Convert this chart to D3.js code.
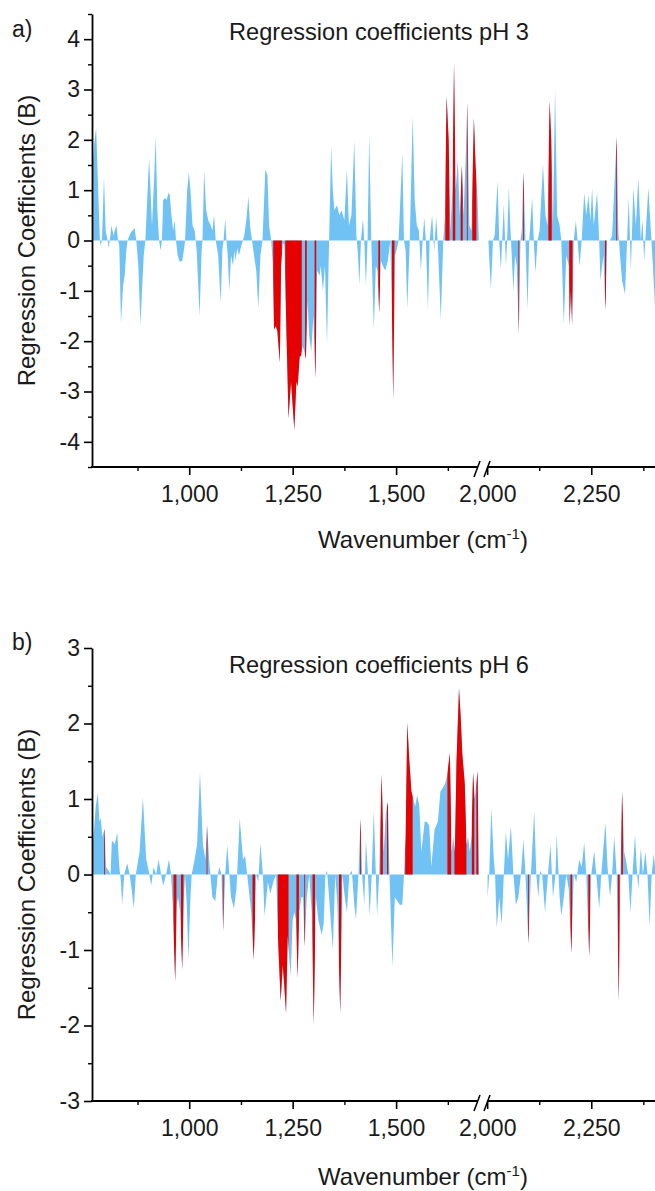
<!DOCTYPE html>
<html><head><meta charset="utf-8">
<script src="https://cdn.jsdelivr.net/npm/d3@7"></script>
<style>
body{margin:0;background:#fff;}
text{font-family:"Liberation Sans",Arial,Helvetica,sans-serif;fill:#1a1a1a;}
</style></head><body>
<svg id="chart" width="655" height="1191"></svg>
<script>
// ---- DATA: [wavenumber (cm-1), regression coefficient B] ----
// pH 3, low-wavenumber segment
const pH3Low = [[765,1.3],[770,1.9],[775,2.24],[780,1.0],[784,0],[786,-0.1],[789,0],[794,1.25],[798,0.2],[803,0],[805,-0.15],[808,0],[812,0.3],[817,0.1],[820,0.2],[824,0.3],[828,0],[831,-0.1],[835,-1.64],[840,-0.9],[844,-0.7],[848,-0.2],[851,0],[858,0.15],[863,0.2],[868,0.25],[872,0],[877,-0.5],[882,-1.67],[887,-0.8],[890,-0.3],[894,0],[903,1.64],[907,0.9],[910,0.3],[915,1.2],[919,2.07],[923,0.6],[927,0],[931,-0.2],[934,0],[937,0.8],[942,0.85],[945,0.8],[950,0.95],[953,0.9],[957,0.5],[961,0.2],[965,0.4],[968,0],[972,-0.3],[977,-0.42],[983,-0.4],[987,-0.2],[990,0],[995,1.0],[999,1.35],[1003,1.0],[1008,0.3],[1013,0.2],[1018,-0.2],[1025,-1.5],[1030,-0.2],[1032,0],[1036,1.38],[1041,0.6],[1046,0.4],[1052,0.3],[1056,0.2],[1060,0.5],[1064,0],[1070,-0.3],[1076,-1.24],[1080,-0.2],[1083,0],[1087,0.43],[1090,0],[1093,-0.3],[1097,-1.0],[1101,-0.3],[1106,-0.5],[1109,-0.2],[1112,-0.4],[1116,-0.15],[1120,-0.3],[1126,-0.1],[1133,0.1],[1138,0.4],[1143,0.88],[1147,0.3],[1150,0.1],[1155,-0.2],[1162,-0.6],[1167,-1.34],[1172,-0.3],[1177,0],[1184,1.41],[1189,1.3],[1193,0.3],[1198,0],[1202,-0.5],[1205,-1.77],[1209,-1.7],[1213,-1.8],[1219,-2.43],[1222,-0.5],[1226,-0.05],[1230,-0.1],[1234,-1.5],[1240,-3.53],[1246,-2.8],[1254,-3.76],[1259,-2.8],[1262,-2.9],[1267,-2.3],[1270,-2.3],[1274,-2.1],[1278,-2.2],[1282,-2.35],[1286,-1.2],[1290,-1.9],[1295,-2.2],[1300,-1.5],[1305,-2.73],[1309,-0.6],[1315,-0.7],[1318,-0.5],[1323,-1.0],[1328,-0.5],[1333,-2.07],[1338,0],[1343,1.87],[1347,1.0],[1351,0.6],[1357,0.7],[1363,0.5],[1368,0.6],[1375,0.4],[1381,1.41],[1386,0.3],[1392,0.5],[1399,1.97],[1404,0.1],[1408,-0.3],[1411,-0.9],[1415,0],[1420,0.43],[1423,0],[1427,-0.9],[1431,0],[1435,2.1],[1440,0],[1446,-1.77],[1451,-0.5],[1455,-0.6],[1459,-1.44],[1463,-0.4],[1468,-0.5],[1474,-0.6],[1480,-0.4],[1486,0],[1490,-1.5],[1493,-3.16],[1497,-0.3],[1501,-0.2],[1506,0],[1515,1.74],[1519,0],[1523,-0.2],[1527,-1.34],[1533,0],[1540,2.47],[1545,0.8],[1550,0.3],[1555,0.2],[1560,-0.6],[1564,0],[1568,0.45],[1572,0],[1577,-1.37],[1581,0],[1587,0.5],[1592,-0.2],[1597,0.47],[1601,-0.1],[1608,-1.57],[1614,0],[1618,0.5],[1622,2.87],[1627,2.0],[1631,0.2],[1636,1.0],[1640,3.53],[1644,1.0],[1649,1.6],[1654,0.5],[1659,1.49],[1663,0.5],[1668,1.6],[1672,2.74],[1677,0.3],[1682,0.2],[1688,2.44],[1692,1.5],[1697,0.8],[1700,0]];
// pH 3, high-wavenumber segment
const pH3High = [[2003,0],[2006,-0.5],[2009,-0.97],[2014,0],[2018,0.1],[2025,1.18],[2029,0],[2033,-0.58],[2036,0],[2040,0.72],[2043,0],[2045,-0.5],[2048,0],[2052,1.05],[2056,0.2],[2059,-0.3],[2063,-1.0],[2067,-0.3],[2071,-0.5],[2076,-1.87],[2080,0],[2083,0.2],[2087,1.35],[2092,0],[2097,-1.37],[2101,0],[2108,0.85],[2112,0],[2116,-0.64],[2121,0],[2126,0.2],[2134,1.51],[2140,0.5],[2145,0.3],[2150,2.77],[2154,2.0],[2158,0.3],[2163,3.03],[2168,0.5],[2174,0.3],[2178,0],[2184,-1.67],[2190,-0.3],[2196,-0.5],[2198,-1.7],[2201,-1.0],[2204,-1.7],[2208,0],[2213,0.4],[2222,-0.5],[2227,0],[2233,0.95],[2238,0.5],[2243,0.9],[2248,0.4],[2252,1.05],[2256,0.3],[2264,0.95],[2269,0],[2272,-0.8],[2279,-0.3],[2284,-1.37],[2288,0],[2295,0],[2300,0.1],[2311,2.06],[2315,0.2],[2319,-0.3],[2324,-0.8],[2331,-1.07],[2336,0],[2340,0.85],[2345,-0.6],[2351,1.05],[2357,0.3],[2363,1.25],[2369,0],[2373,0.4],[2377,-0.4],[2381,0.2],[2387,1.05],[2393,0.2],[2398,-0.5],[2403,-1.3]];
// pH 3, significant (red) wavenumber ranges
const pH3Red = [[1203,1224],[1232,1272],[1280,1284],[1303,1307],[1457,1461],[1490,1496],[1619,1629],[1637,1643],[1656,1661],[1671,1673],[1684,1694],[2075,2077],[2086,2088],[2147,2155],[2197,2205],[2283,2286],[2310,2312]];

// pH 6, low-wavenumber segment
const pH6Low = [[765,0.3],[770,0.6],[774,0.9],[779,1.08],[783,0.7],[786,0.75],[790,0.5],[795,0.6],[799,0.1],[805,0.05],[810,0],[813,0.45],[820,0.4],[826,0.55],[831,0.1],[835,-0.1],[838,-0.4],[843,0],[850,0.15],[856,0],[861,-0.2],[866,-0.45],[871,0],[880,0.3],[888,1.02],[896,0.2],[902,0.05],[908,-0.15],[914,0.1],[920,0],[926,0.2],[932,0],[937,-0.15],[944,0],[951,0.2],[956,0],[960,-0.4],[966,-1.42],[970,-0.4],[973,-0.3],[978,-0.5],[983,-1.26],[987,-0.3],[990,0],[994,-0.4],[998,-1.13],[1003,-0.3],[1006,0],[1013,0.2],[1019,0.4],[1026,1.35],[1033,0.4],[1039,0.2],[1043,0.66],[1048,0.2],[1056,-0.3],[1063,-0.35],[1069,0],[1073,0.1],[1078,0],[1082,-0.75],[1087,0],[1092,0.39],[1097,0],[1101,-0.3],[1108,-0.45],[1114,-0.2],[1122,0.75],[1130,0.2],[1135,0.25],[1140,0],[1146,-0.3],[1150,-0.5],[1156,-1.13],[1162,0],[1167,-0.1],[1172,0.41],[1178,0],[1182,-0.55],[1190,-0.1],[1196,-0.25],[1203,-0.1],[1210,0],[1215,-0.9],[1221,-1.68],[1226,-1.2],[1230,-1.5],[1234,-1.84],[1238,-0.8],[1245,-1.35],[1250,-0.6],[1254,-0.5],[1258,-0.6],[1262,-1.37],[1266,-0.5],[1271,-0.3],[1275,-0.3],[1279,-0.95],[1284,-0.3],[1290,0],[1296,-0.5],[1301,-1.99],[1306,-0.3],[1312,-0.6],[1320,-0.8],[1325,-0.65],[1329,0],[1333,0.05],[1338,-0.3],[1347,-0.99],[1353,0],[1358,-0.4],[1365,-1.84],[1370,0],[1376,-0.3],[1381,-0.5],[1387,0],[1393,0.05],[1399,-0.4],[1403,-0.6],[1409,0],[1414,0.74],[1418,0],[1423,-0.4],[1427,0.45],[1432,0],[1436,-0.55],[1441,0],[1446,0.84],[1451,0],[1454,-0.55],[1459,0],[1465,1.33],[1470,0.3],[1475,0.8],[1480,0.96],[1484,0],[1491,-1.22],[1497,-0.3],[1503,-0.35],[1509,-0.4],[1515,-0.4],[1519,0],[1523,0.5],[1527,2.01],[1532,1.5],[1537,1.1],[1542,1.0],[1546,0.9],[1551,1.05],[1556,0.9],[1561,0.3],[1569,0.7],[1574,0.7],[1580,0.65],[1585,0.1],[1593,0.6],[1601,0.7],[1607,1.1],[1613,1.15],[1618,1.2],[1623,1.3],[1630,1.61],[1634,0.3],[1638,0.5],[1642,0.3],[1646,1.5],[1652,2.47],[1656,2.1],[1660,1.6],[1666,1.2],[1670,0.4],[1674,0.5],[1678,0.3],[1682,0.5],[1686,1.35],[1690,1.0],[1697,1.37],[1700,0]];
// pH 6, high-wavenumber segment
const pH6High = [[2001,-0.3],[2005,0],[2010,0.88],[2016,0.2],[2019,0],[2023,-0.71],[2029,-0.3],[2035,-0.66],[2040,0],[2045,0.57],[2050,0.2],[2057,0.64],[2063,0],[2069,-0.4],[2075,-0.3],[2081,0],[2087,0.46],[2092,0],[2099,-0.91],[2105,0],[2113,0.84],[2118,0],[2123,-0.3],[2127,0.05],[2132,0],[2139,-0.5],[2146,0],[2152,0.4],[2158,-0.3],[2164,0],[2167,0.53],[2174,-0.3],[2178,-0.55],[2184,-0.3],[2190,0],[2196,-0.2],[2202,-1.04],[2208,0],[2214,-0.1],[2221,0.2],[2227,0.1],[2233,0.42],[2238,0],[2245,-1.09],[2250,0],[2257,0.31],[2262,0],[2269,-0.45],[2274,0],[2284,0.69],[2289,0.1],[2295,-0.3],[2300,0],[2305,0.51],[2311,0],[2316,-1.68],[2320,0],[2324,1.1],[2329,0.3],[2333,0.2],[2339,0],[2344,-0.51],[2349,0],[2355,0.53],[2359,0.1],[2363,-0.2],[2369,0.35],[2374,0],[2380,0.3],[2385,0],[2390,-0.69],[2395,0],[2400,0.27],[2403,0.1]];
// pH 6, significant (red) wavenumber ranges
const pH6Red = [[794,796],[962,969],[980,986],[1042,1044],[1081,1083],[1153,1159],[1214,1240],[1259,1265],[1278,1280],[1298,1304],[1362,1368],[1413,1415],[1462,1468],[1478,1481],[1522,1540],[1624,1633],[1641,1670],[1683,1689],[1694,1699],[2098,2100],[2200,2204],[2243,2247],[2314,2318],[2322,2326]];

// axis ticks
const xDomain = [765, 1710, 1990, 2403];   // broken axis: 1710 | 1990
const xMajorTicks = [1000, 1250, 1500, 2000, 2250];
const xMinorTicks = [875, 1125, 1375, 1625, 2125, 2375];
const yMajorA = [-4, -3, -2, -1, 0, 1, 2, 3, 4];
const yMinorA = [-4.5, -3.5, -2.5, -1.5, -0.5, 0.5, 1.5, 2.5, 3.5, 4.5];
const yMajorB = [-3, -2, -1, 0, 1, 2, 3];
const yMinorB = [-2.5, -1.5, -0.5, 0.5, 1.5, 2.5];
const titles = ["Regression coefficients pH 3", "Regression coefficients pH 6"];
const letters = ["a)", "b)"];

// ---- DRAWING ----
const svg = d3.select("#chart");
const BLUE = "#70c2f4", RED = "#e60000";
const FS = 23;
const x = d3.scaleLinear().domain(xDomain).range([92, 483, 483, 655]);

function panel(idx, top, bottom, yDom, yMaj, yMin, segs, reds, titleY, letterY, xlabY) {
  const y = d3.scaleLinear().domain(yDom).range([bottom, top]);
  const g = svg.append("g");
  const area = d3.area().x(d => x(d[0])).y0(y(0)).y1(d => y(d[1]));
  const cid = "redclip" + idx;
  svg.append("clipPath").attr("id", cid).selectAll("rect").data(reds).join("rect")
    .attr("x", d => x(d[0])).attr("width", d => Math.max(0.8, x(d[1]) - x(d[0])))
    .attr("y", top).attr("height", bottom - top);
  segs.forEach(s => g.append("path").attr("d", area(s)).attr("fill", BLUE));
  segs.forEach(s => g.append("path").attr("d", area(s)).attr("fill", RED).attr("clip-path", `url(#${cid})`));

  // y axis
  const ya = svg.append("g").attr("transform", "translate(92,0)")
    .call(d3.axisLeft(y).tickValues(yMaj).tickSize(8).tickSizeOuter(0).tickPadding(4).tickFormat(d => String(d)));
  ya.select(".domain").attr("stroke-width", 1.8);
  ya.selectAll(".tick line").attr("stroke-width", 1.6);
  ya.selectAll("text").attr("font-size", FS).attr("font-family", null).attr("fill", "#1a1a1a");
  const ym = svg.append("g").attr("transform", "translate(92,0)")
    .call(d3.axisLeft(y).tickValues(yMin).tickSize(4).tickFormat(""));
  ym.select(".domain").remove();
  ym.selectAll(".tick line").attr("stroke-width", 1.4);

  // x axis
  const xa = svg.append("g").attr("transform", `translate(0,${bottom})`)
    .call(d3.axisBottom(x).tickValues(xMajorTicks).tickSize(8).tickPadding(11).tickFormat(d3.format(",")));
  xa.select(".domain").remove();
  xa.selectAll(".tick line").attr("stroke-width", 1.6);
  xa.selectAll("text").attr("font-size", FS).attr("font-family", null).attr("fill", "#1a1a1a");
  const xm = svg.append("g").attr("transform", `translate(0,${bottom})`)
    .call(d3.axisBottom(x).tickValues(xMinorTicks).tickSize(4).tickFormat(""));
  xm.select(".domain").remove();
  xm.selectAll(".tick line").attr("stroke-width", 1.4);
  // axis line with break
  const bx = x(xDomain[1]);
  svg.append("line").attr("x1", 91).attr("x2", bx - 6).attr("y1", bottom).attr("y2", bottom).attr("stroke", "#000").attr("stroke-width", 1.8);
  svg.append("line").attr("x1", bx + 4).attr("x2", 655).attr("y1", bottom).attr("y2", bottom).attr("stroke", "#000").attr("stroke-width", 1.8);
  [[-9, -3], [1, 7]].forEach(o => svg.append("line")
    .attr("x1", bx + o[0]).attr("y1", bottom + 10).attr("x2", bx + o[1]).attr("y2", bottom - 6)
    .attr("stroke", "#000").attr("stroke-width", 1.6));

  // texts
  svg.append("text").attr("x", 12).attr("y", letterY).attr("font-size", FS).text(letters[idx]);
  svg.append("text").attr("x", 229).attr("y", titleY).attr("font-size", 23.6).text(titles[idx]);
  svg.append("text").attr("transform", `translate(35,${(top + bottom) / 2}) rotate(-90)`)
    .attr("text-anchor", "middle").attr("font-size", 24).text("Regression Coefficients (B)");
  const xl = svg.append("text").attr("x", 423).attr("y", xlabY).attr("text-anchor", "middle").attr("font-size", 24);
  xl.append("tspan").text("Wavenumber (cm");
  xl.append("tspan").attr("font-size", 15).attr("dy", -9).text("-1");
  xl.append("tspan").attr("dy", 9).text(")");
}

panel(0, 14, 467, [-4.5, 4.5], yMajorA, yMinorA, [pH3Low, pH3High], pH3Red, 40, 37, 548);
panel(1, 648, 1101, [-3, 3], yMajorB, yMinorB, [pH6Low, pH6High], pH6Red, 673, 650, 1185);
</script>
</body></html>
